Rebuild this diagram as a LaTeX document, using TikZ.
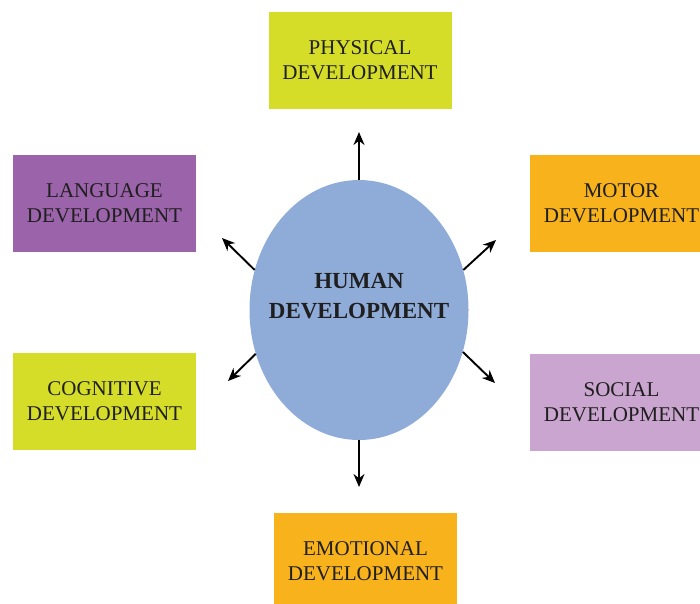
\documentclass[tikz,border=0pt]{standalone}
\usepackage{fontspec}
\setmainfont{Liberation Serif}
\usetikzlibrary{shapes.geometric,arrows.meta}
\definecolor{cgreen}{RGB}{213,221,40}
\definecolor{cpurple}{RGB}{155,99,170}
\definecolor{corange}{RGB}{248,178,28}
\definecolor{clilac}{RGB}{201,165,207}
\definecolor{cblue}{RGB}{143,172,217}
\tikzset{
  devbox/.style={rectangle, minimum width=183pt, minimum height=97pt, inner sep=0pt,
    align=center, font=\fontsize{21}{25}\selectfont, text=black!88},
  hub/.style={ellipse, fill=cblue, minimum width=219pt, minimum height=260pt, inner sep=0pt},
  hubtext/.style={align=center, font=\fontsize{23}{30}\selectfont\bfseries, text=black!88, yshift=14pt},
  arr/.style={line width=1.9pt, -{Stealth[length=13pt,width=11pt]}}
}
\begin{document}
\begin{tikzpicture}[x=1pt,y=-1pt]
\useasboundingbox (0,0) rectangle (700,603);
\clip (0,0) rectangle (700,603);
\node[devbox, fill=cgreen] (phys) at (360,60.5) {PHYSICAL\\DEVELOPMENT};
\node[devbox, fill=cpurple] (lang) at (104.5,203) {LANGUAGE\\DEVELOPMENT};
\node[devbox, fill=corange] (motor) at (621.5,203) {MOTOR\\DEVELOPMENT};
\node[devbox, fill=cgreen] (cogn) at (104.5,401) {COGNITIVE\\DEVELOPMENT};
\node[devbox, fill=clilac] (social) at (621.5,402) {SOCIAL\\DEVELOPMENT};
\node[devbox, fill=corange] (emo) at (365.5,561) {EMOTIONAL\\DEVELOPMENT};
\node[hub, label={[hubtext]center:HUMAN\\DEVELOPMENT}] (hd) at (359,310) {};
\coordinate (pE) at (359,132);
\coordinate (lE) at (222,238);
\coordinate (mE) at (496,240);
\coordinate (cE) at (228,381);
\coordinate (sE) at (495,383);
\coordinate (eE) at (359,487);
\draw[arr] (hd.north) -- (pE);
\draw[arr] (hd.159) -- (lE);
\draw[arr] (hd.21) -- (mE);
\draw[arr] (hd.203) -- (cE);
\draw[arr] (hd.-22) -- (sE);
\draw[arr] (hd.south) -- (eE);
\end{tikzpicture}
\end{document}
